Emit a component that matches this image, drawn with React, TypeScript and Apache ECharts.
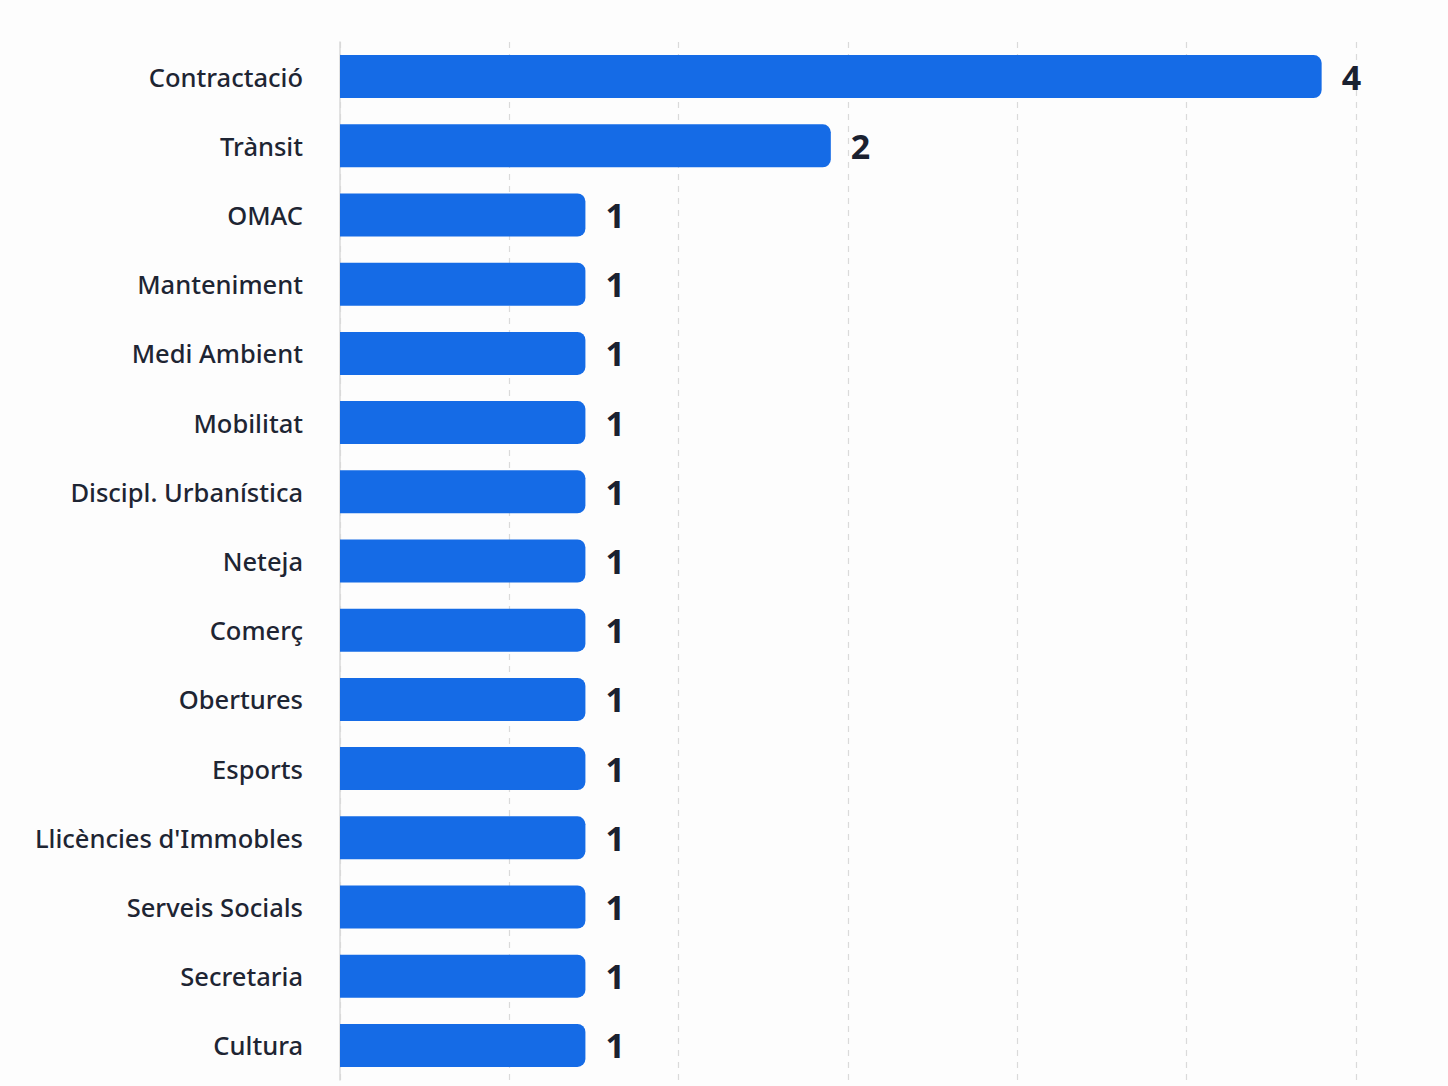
import React, { useEffect, useRef } from "react";
import * as echarts from "echarts";

const categories = [
  "Contractació",
  "Trànsit",
  "OMAC",
  "Manteniment",
  "Medi Ambient",
  "Mobilitat",
  "Discipl. Urbanística",
  "Neteja",
  "Comerç",
  "Obertures",
  "Esports",
  "Llicències d'Immobles",
  "Serveis Socials",
  "Secretaria",
  "Cultura",
];
const values = [4, 2, 1, 1, 1, 1, 1, 1, 1, 1, 1, 1, 1, 1, 1];

export default function App() {
  const ref = useRef<HTMLDivElement>(null);
  useEffect(() => {
    document.body.style.margin = "0";
    const chart = echarts.init(ref.current!, null, { renderer: "svg" });
    chart.setOption({
      animation: false,
      backgroundColor: "#fdfdfd",
      grid: { left: 340, right: 92, top: 42, bottom: 6, containLabel: false },
      xAxis: {
        type: "value",
        min: 0,
        max: 4.14,
        interval: 0.69,
        axisLabel: { show: false },
        axisLine: { show: false },
        axisTick: { show: false },
        splitLine: { show: true, lineStyle: { color: "#dadada", type: [6, 6], width: 1.2 } },
      },
      yAxis: {
        type: "category",
        data: categories,
        inverse: true,
        axisLine: { show: true, lineStyle: { color: "#d8d8d8", width: 1.5 } },
        axisTick: { show: false },
        axisLabel: {
          margin: 37,
          fontFamily: "Noto Sans",
          fontSize: 25.5,
          fontWeight: 500,
          color: "#1e2533",
        },
      },
      series: [
        {
          type: "bar",
          data: values,
          barWidth: 43,
          itemStyle: { color: "#156be6", borderRadius: [0, 8, 8, 0] },
          label: {
            show: true,
            position: "right",
            distance: 20,
            fontFamily: "Noto Sans",
            fontSize: 34,
            fontWeight: "bold",
            color: "#1a2130",
          },
        },
      ],
    });
    return () => chart.dispose();
  }, []);
  return (
    <div
      ref={ref}
      style={{ position: "fixed", left: 0, top: 0, width: 1448, height: 1086 }}
    />
  );
}
